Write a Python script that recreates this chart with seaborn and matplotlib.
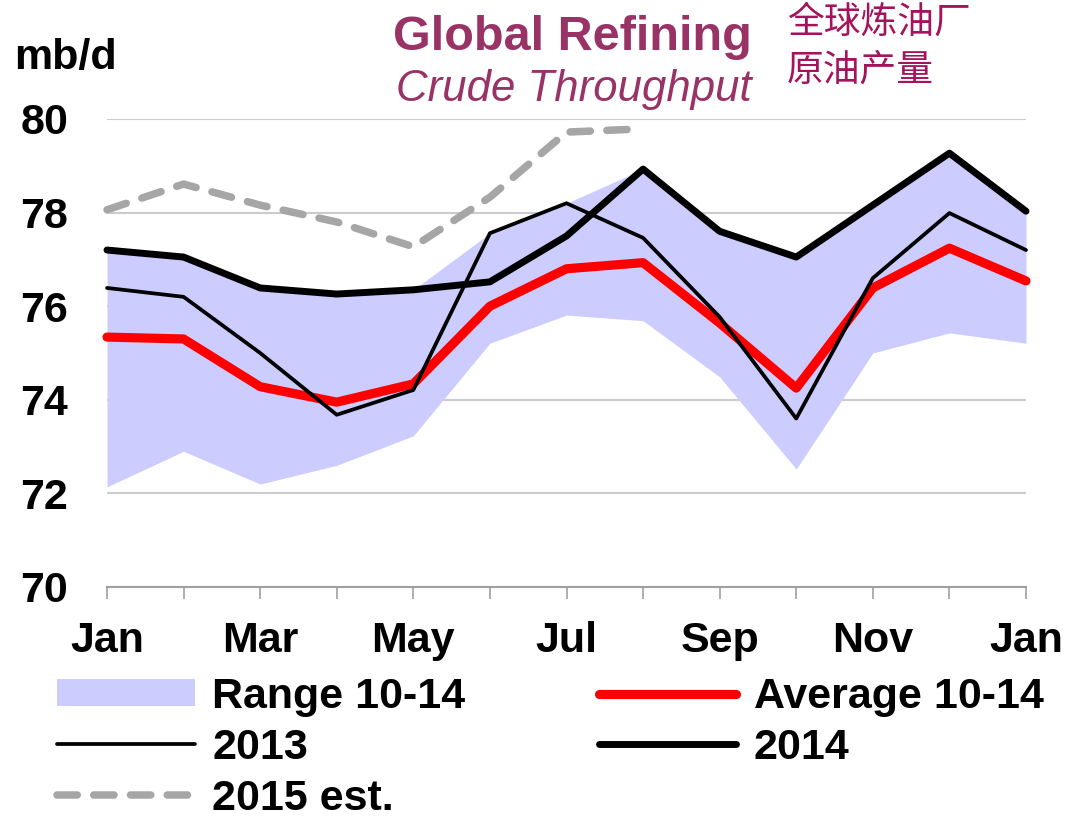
import numpy as np
import pandas as pd
import matplotlib
matplotlib.use("Agg")
import matplotlib.pyplot as plt
from matplotlib.patches import Patch
import seaborn as sns

# --- data (mb/d) ---
months = ['Jan', 'Feb', 'Mar', 'Apr', 'May', 'Jun', 'Jul', 'Aug', 'Sep', 'Oct', 'Nov', 'Dec', 'Jan']
range_low = [72.14, 72.90, 72.20, 72.60, 73.23, 75.21, 75.81, 75.69, 74.49, 72.52, 75.00, 75.43, 75.21]
range_high = [77.20, 77.05, 76.39, 76.26, 76.35, 77.56, 78.20, 78.93, 77.60, 77.05, 78.16, 79.27, 78.03]
avg_10_14 = [75.34, 75.30, 74.28, 73.95, 74.34, 76.00, 76.80, 76.93, 75.64, 74.25, 76.39, 77.24, 76.54]
y2013 = [76.39, 76.20, 75.00, 73.68, 74.21, 77.56, 78.20, 77.46, 75.77, 73.60, 76.60, 77.99, 77.20]
y2014 = [77.20, 77.05, 76.39, 76.26, 76.35, 76.52, 77.50, 78.93, 77.60, 77.05, 78.16, 79.27, 78.03]
y2015_est = [78.06, 78.61, 78.16, 77.80, 77.27, 78.33, 79.72, 79.79]

W, H = 1068, 817
FONT = ['Liberation Sans', 'DejaVu Sans']
CJK = ['Noto Sans CJK SC', 'DejaVu Sans']
TITLE_COL = '#993366'
CJK_COL = '#a3145c'

sns.set_theme(style="white")
plt.rcParams['font.family'] = FONT
plt.rcParams['text.color'] = 'black'
plt.rcParams['xtick.color'] = 'black'
plt.rcParams['ytick.color'] = 'black'

pos = np.arange(len(months))
df = pd.DataFrame({'pos': pos, 'low': range_low, 'high': range_high,
                   'avg': avg_10_14, 'y2013': y2013, 'y2014': y2014})
df15 = pd.DataFrame({'pos': pos[:len(y2015_est)], 'y2015': y2015_est})

fig = plt.figure(figsize=(W / 100, H / 100), dpi=100)
ax = fig.add_axes([107 / W, 1 - 587 / H, (1026 - 107) / W, (587 - 119) / H])

# range band
ax.fill_between(df['pos'], df['low'], df['high'], color='#ccccff', lw=0, zorder=1)

sns.lineplot(data=df, x='pos', y='avg', ax=ax, color='#ff0000', lw=6.6,
             solid_capstyle='round', zorder=3, label='Average 10-14')
sns.lineplot(data=df, x='pos', y='y2013', ax=ax, color='black', lw=2.7,
             solid_capstyle='round', zorder=4, label='2013')
sns.lineplot(data=df, x='pos', y='y2014', ax=ax, color='black', lw=5.0,
             solid_capstyle='round', zorder=5, label='2014')
sns.lineplot(data=df15, x='pos', y='y2015', ax=ax, color='#a6a6a6', lw=5.4,
             dash_capstyle='round', zorder=6, label='2015 est.')
ax.lines[-1].set_dashes((2.7, 2.2))
for ln in ax.lines:
    ln.set_clip_on(False)

ax.set_xlim(0, 12)
ax.set_ylim(70, 80)
ax.set_yticks([70, 72, 74, 76, 78, 80])
ax.set_yticklabels([str(v) for v in [70, 72, 74, 76, 78, 80]], fontsize=31, fontweight='bold')
ax.set_xticks(pos)
ax.set_xticklabels([m if i % 2 == 0 else '' for i, m in enumerate(months)],
                   fontsize=31, fontweight='bold')
ax.set_xlabel('')
ax.set_ylabel('')

ax.yaxis.grid(True, color='#cccccc', lw=1.5)
ax.xaxis.grid(False)
ax.set_axisbelow(True)
for side in ['left', 'right', 'top']:
    ax.spines[side].set_visible(False)
ax.spines['bottom'].set_color('#a0a0a0')
ax.spines['bottom'].set_linewidth(1.5)
ax.tick_params(axis='x', bottom=True, length=8.6, width=1.2, color='#a0a0a0',
               labelcolor='black', direction='out', pad=16)
ax.tick_params(axis='y', left=False, length=0, pad=28, labelcolor='black')

# legend (row-major order across two columns)
h, l = ax.get_legend_handles_labels()
lookup = dict(zip(l, h))
band = Patch(facecolor='#ccccff', edgecolor='none')
handles = [band, lookup['2013'], lookup['2015 est.'], lookup['Average 10-14'], lookup['2014']]
labels = ['Range 10-14', '2013', '2015 est.', 'Average 10-14', '2014']
ax.legend_.remove()
fig.legend(handles, labels, ncol=2, loc='upper left',
           bbox_to_anchor=(57 / W, 1 - 677 / H), frameon=False,
           prop={'family': FONT, 'weight': 'bold', 'size': 31},
           borderpad=0, borderaxespad=0, handlelength=3.2, handletextpad=0.4,
           columnspacing=3.1, labelspacing=0.25, handleheight=0.6)

# titles
fig.text(14 / W, 1 - 58 / H, 'mb/d', fontsize=31, fontweight='bold', ha='left', va='center')
fig.text(752 / W, 1 - 37 / H, 'Global Refining', fontsize=35, fontweight='bold',
         color=TITLE_COL, ha='right', va='center')
fig.text(752 / W, 1 - 89 / H, 'Crude Throughput', fontsize=31.5, fontstyle='italic',
         color=TITLE_COL, ha='right', va='center')
fig.text(787 / W, 1 - 22 / H, '全球炼油厂', fontsize=26.5, family=CJK,
         color=CJK_COL, ha='left', va='center')
fig.text(787 / W, 1 - 70 / H, '原油产量', fontsize=26.5, family=CJK,
         color=CJK_COL, ha='left', va='center')

fig.savefig('out.png', dpi=100)
